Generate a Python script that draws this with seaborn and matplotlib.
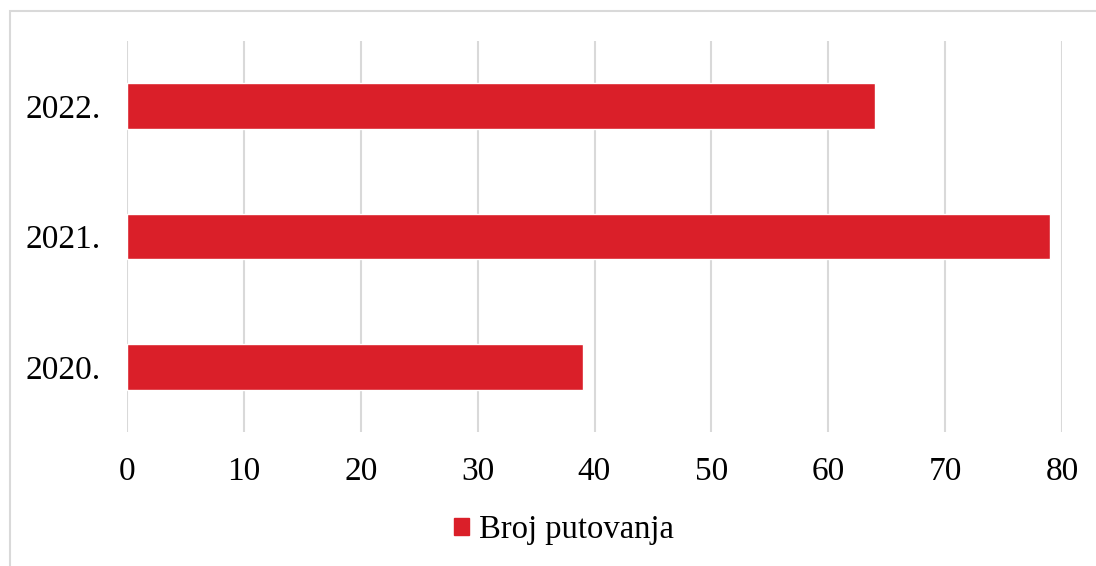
import matplotlib
matplotlib.use("Agg")
import matplotlib.pyplot as plt
import matplotlib.patches as mpatches
import seaborn as sns
import pandas as pd

# data
years = ["2022.", "2021.", "2020."]
trips = [64, 79, 39]
series_name = "Broj putovanja"
x_ticks = [0, 10, 20, 30, 40, 50, 60, 70, 80]

bar_color = "#DA1F29"
grid_color = "#D9D9D9"

sns.set_style("white")
plt.rcParams["font.family"] = ["Liberation Serif", "DejaVu Serif"]
plt.rcParams["text.color"] = "black"
plt.rcParams["xtick.color"] = "black"
plt.rcParams["ytick.color"] = "black"

df = pd.DataFrame({"year": years, "trips": trips})

fig = plt.figure(figsize=(10.96, 5.66), dpi=100)
ax = fig.add_axes([127 / 1096, 1 - 432 / 566, (1062 - 127) / 1096, (432 - 41) / 566])

# chart border (cut off at right/bottom like the source)
fig.patches.append(mpatches.Rectangle(
    (10 / 1096, -0.1), 1.2, 1 - 11 / 566 + 0.1,
    transform=fig.transFigure, fill=False,
    edgecolor=grid_color, linewidth=1.5, zorder=0
))

sns.barplot(
    data=df, x="trips", y="year", order=years,
    color=bar_color, saturation=1, width=0.35, ax=ax, zorder=3
)

ax.set_xlim(0, 80)
ax.set_ylim(2.5, -0.5)
ax.set_xticks(x_ticks)
ax.set_xlabel("")
ax.set_ylabel("")
ax.grid(axis="x", color=grid_color, linewidth=1.5)
ax.set_axisbelow(True)
for s in ax.spines.values():
    s.set_visible(False)
ax.tick_params(axis="x", length=0, pad=18, labelsize=24, labelcolor="black")
ax.tick_params(axis="y", length=0, pad=19, labelsize=24, labelcolor="black")

handle = mpatches.Patch(color=bar_color, label=series_name)
fig.legend(
    handles=[handle], loc="center", bbox_to_anchor=(564 / 1096, 1 - 530 / 566),
    frameon=False, fontsize=23.5, handlelength=0.45, handleheight=0.45,
    handletextpad=0.3, labelcolor="black"
)

fig.savefig("out.png", dpi=100)
